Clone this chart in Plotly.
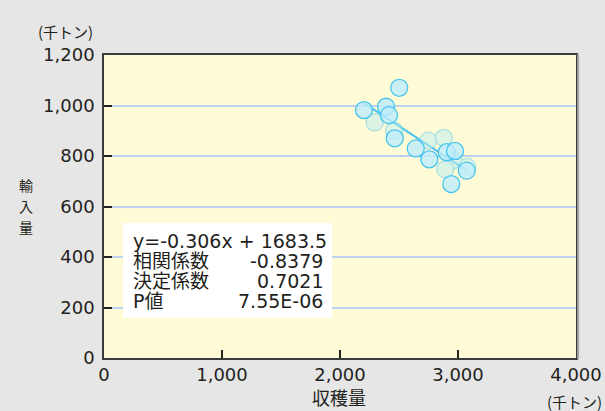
import plotly.graph_objects as go

# Harvest (収穫量) vs imports (輸入量), thousand tonnes
harvest_solid = [2502, 2203, 2390, 2415, 2464, 2642, 2757, 2904, 2975, 3074, 2943]
imports_solid = [1070, 982, 995, 962, 870, 830, 787, 815, 820, 742, 689]
harvest_pale = [2294, 2458, 2748, 2879, 2960, 2892, 3079]
imports_pale = [933, 900, 861, 872, 784, 747, 757]

# Regression summary shown in the box
slope = -0.306
intercept = 1683.5
stat_labels = ["相関係数", "決定係数", "P値"]
stat_values = ["-0.8379", "0.7021", "7.55E-06"]

x_ticks = [0, 1000, 2000, 3000, 4000]
y_ticks = [0, 200, 400, 600, 800, 1000, 1200]

FONT = "DejaVu Sans, Noto Sans CJK JP"
CJK = "Noto Sans CJK JP"
INK = "#231f20"

all_x = harvest_solid + harvest_pale
fit_x = [min(all_x), max(all_x)]
fit_y = [slope * v + intercept for v in fit_x]

fig = go.Figure()
fig.add_trace(go.Scatter(
    x=fit_x, y=fit_y, mode="lines",
    line=dict(color="#4fc3ec", width=2), hoverinfo="skip", showlegend=False))
fig.add_trace(go.Scatter(
    x=harvest_pale, y=imports_pale, mode="markers", opacity=0.6,
    marker=dict(size=17, color="rgba(190,236,240,0.85)",
                line=dict(color="#6fd0ea", width=1.3)),
    showlegend=False))
fig.add_trace(go.Scatter(
    x=harvest_solid, y=imports_solid, mode="markers",
    marker=dict(size=17, color="rgba(190,236,252,0.78)",
                line=dict(color="#45c5ee", width=1.3)),
    showlegend=False))

axis_common = dict(
    showline=True, linecolor="#3a3a3a", linewidth=1.5, mirror=True,
    ticks="inside", ticklen=8, tickwidth=1.5, tickcolor="#222",
    showgrid=True, gridcolor="#bcd2ee", gridwidth=2, zeroline=False,
    automargin=False,
    tickformat=",d", tickfont=dict(family=FONT, size=18, color=INK),
)
fig.update_xaxes(range=[0, 4000], tickvals=x_ticks, **{**axis_common, "showgrid": False})
fig.update_yaxes(range=[0, 1200], tickvals=y_ticks, ticklabelstandoff=4, **axis_common)

shapes = [
    # statistics box
    dict(type="rect", xref="paper", yref="paper", x0=0.0407, x1=0.4831,
         y0=0.132, y1=0.4455, fillcolor="white", line=dict(width=0), layer="above"),
    # soft shade along the right frame
    dict(type="line", xref="paper", yref="paper", x0=1.0045, x1=1.0045,
         y0=-0.003, y1=1.003, line=dict(color="#a8a8a8", width=2)),
]

row_y = [0.3861, 0.3201, 0.2541, 0.1881]
ann = [dict(text=f"y={slope}x + {intercept}", xref="paper", yref="paper",
            x=0.0566, y=row_y[0], xanchor="left", yanchor="middle",
            showarrow=False, font=dict(family=FONT, size=19, color=INK))]
for i, (lab, val) in enumerate(zip(stat_labels, stat_values)):
    ann.append(dict(text=lab, xref="paper", yref="paper", x=0.0566, y=row_y[i + 1],
                    xanchor="left", yanchor="middle", showarrow=False,
                    font=dict(family=FONT, size=19, color=INK)))
    ann.append(dict(text=val, xref="paper", yref="paper", x=0.4682, y=row_y[i + 1],
                    xanchor="right", yanchor="middle", showarrow=False,
                    font=dict(family=FONT, size=19, color=INK)))

# unit labels and axis titles
ann.append(dict(text="(千トン)", xref="paper", yref="paper", x=-0.082, y=1.076,
                xanchor="center", yanchor="middle", showarrow=False,
                font=dict(family=CJK, size=15, color=INK)))
ann.append(dict(text="(千トン)", xref="paper", yref="paper", x=0.996,
                y=-0.145, xanchor="center", yanchor="middle", showarrow=False,
                font=dict(family=CJK, size=15, color=INK)))
ann.append(dict(text="収穫量", xref="paper", yref="paper", x=0.498, y=-0.13,
                xanchor="center", yanchor="middle", showarrow=False,
                font=dict(family=CJK, size=18, color=INK)))
# vertical title, one character per row
for ch, yy in zip("輸入量", [0.571, 0.502, 0.433]):
    ann.append(dict(text=ch, xref="paper", yref="paper", x=-0.166, y=yy,
                    xanchor="center", yanchor="middle", showarrow=False,
                    font=dict(family=CJK, size=14, color=INK)))

fig.update_layout(
    width=605, height=411,
    margin=dict(l=104, r=29, t=55, b=53),
    paper_bgcolor="#e6e6e6", plot_bgcolor="#fffbd6",
    shapes=shapes, annotations=ann,
    font=dict(family=FONT, color=INK),
)

fig.write_html("out.html")
